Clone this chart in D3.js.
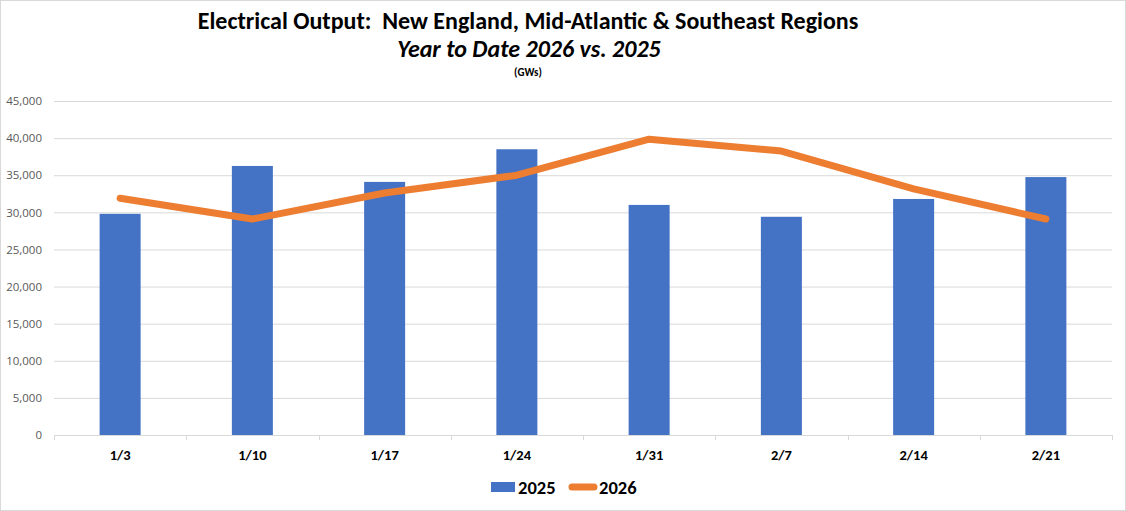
<!DOCTYPE html>
<html>
<head>
<meta charset="utf-8">
<title>Electrical Output</title>
<script src="https://cdn.jsdelivr.net/npm/d3@7"></script>
<style>
  body { margin: 0; background: #fff; }
  svg { display: block; }
</style>
</head>
<body>
<div id="chart"></div>
<script>
// data
var weeks = ["1/3", "1/10", "1/17", "1/24", "1/31", "2/7", "2/14", "2/21"];
var output2025 = [29800, 36250, 34100, 38500, 31000, 29400, 31800, 34750];
var output2026 = [31900, 29100, 32600, 35000, 39850, 38250, 33150, 29100];
var yTicks = [0, 5000, 10000, 15000, 20000, 25000, 30000, 35000, 40000, 45000];

var W = 1126, H = 511;
var margin = {top: 101, right: 14, bottom: 76, left: 54};
var width = W - margin.left - margin.right,
    height = H - margin.top - margin.bottom;

var svg = d3.select("#chart").append("svg")
    .attr("width", W)
    .attr("height", H);

// outer border
svg.append("rect")
    .attr("x", 0.5).attr("y", 0.5)
    .attr("width", W - 1).attr("height", H - 1)
    .attr("fill", "#fff")
    .attr("stroke", "#d9d9d9");

// titles
svg.append("text")
    .attr("x", 528).attr("y", 29)
    .attr("text-anchor", "middle")
    .attr("xml:space", "preserve")
    .style("font-family", "Carlito, Lato, sans-serif")
    .style("font-weight", "bold")
    .style("font-size", "24px")
    .text("Electrical Output:  New England, Mid-Atlantic & Southeast Regions");

svg.append("text")
    .attr("x", 529).attr("y", 57)
    .attr("text-anchor", "middle")
    .style("font-family", "Carlito, Lato, sans-serif")
    .style("font-weight", "bold")
    .style("font-style", "italic")
    .style("font-size", "24px")
    .text("Year to Date 2026 vs. 2025");

svg.append("text")
    .attr("x", 528).attr("y", 76)
    .attr("text-anchor", "middle")
    .style("font-family", "Carlito, Lato, sans-serif")
    .style("font-weight", "bold")
    .style("font-size", "11px")
    .text("(GWs)");

var g = svg.append("g")
    .attr("transform", "translate(" + margin.left + "," + margin.top + ")");

var x = d3.scaleBand().domain(weeks).range([0, width]).paddingInner(0).paddingOuter(0);
var y = d3.scaleLinear().domain([0, 45000]).range([height, 0]);

// gridlines
g.append("g")
    .call(d3.axisLeft(y).tickValues(yTicks).tickSize(-width).tickFormat(""))
    .call(function(s) {
      s.select(".domain").remove();
      s.selectAll("line").attr("stroke", "#d9d9d9");
    });

// y tick labels
g.append("g")
    .call(d3.axisLeft(y).tickValues(yTicks).tickSize(0).tickPadding(12).tickFormat(d3.format(",")))
    .call(function(s) {
      s.select(".domain").remove();
      s.selectAll("text")
        .attr("fill", "#595959")
        .style("font-family", "'Open Sans', sans-serif")
        .style("font-size", "11.5px");
    });

// bars
var bw = x.bandwidth() * 0.31;
g.selectAll(".bar")
    .data(output2025)
    .enter().append("rect")
    .attr("class", "bar")
    .attr("x", function(d, i) { return x(weeks[i]) + x.bandwidth() / 2 - bw / 2; })
    .attr("y", function(d) { return y(d); })
    .attr("width", bw)
    .attr("height", function(d) { return height - y(d); })
    .attr("fill", "#4472c4");

// x axis
g.append("g")
    .attr("transform", "translate(0," + height + ")")
    .call(d3.axisBottom(x).tickSize(0).tickPadding(15))
    .call(function(s) {
      s.select(".domain").attr("stroke", "#d9d9d9");
      s.selectAll("text")
        .attr("fill", "#000")
        .style("font-family", "Carlito, Lato, sans-serif")
        .style("font-weight", "bold")
        .style("font-size", "14.5px");
    });

// tick marks at category boundaries
g.selectAll(".sep")
    .data(d3.range(weeks.length + 1))
    .enter().append("line")
    .attr("x1", function(i) { return Math.round(i * x.step()) + 0.5; })
    .attr("x2", function(i) { return Math.round(i * x.step()) + 0.5; })
    .attr("y1", height).attr("y2", height + 5)
    .attr("stroke", "#d9d9d9");

// 2026 line
var line = d3.line()
    .x(function(d, i) { return x(weeks[i]) + x.bandwidth() / 2; })
    .y(function(d) { return y(d); });

g.append("path")
    .datum(output2026)
    .attr("d", line)
    .attr("fill", "none")
    .attr("stroke", "#ed7d31")
    .attr("stroke-width", 7)
    .attr("stroke-linecap", "round")
    .attr("stroke-linejoin", "round");

// legend
var leg = svg.append("g").attr("transform", "translate(0,487)");
leg.append("rect")
    .attr("x", 491).attr("y", -5)
    .attr("width", 24).attr("height", 10)
    .attr("fill", "#4472c4");
leg.append("text")
    .attr("x", 518).attr("y", 7)
    .style("font-family", "Carlito, Lato, sans-serif")
    .style("font-weight", "bold")
    .style("font-size", "18.5px")
    .text("2025");
leg.append("line")
    .attr("x1", 572).attr("x2", 594)
    .attr("y1", 0).attr("y2", 0)
    .attr("stroke", "#ed7d31")
    .attr("stroke-width", 7)
    .attr("stroke-linecap", "round");
leg.append("text")
    .attr("x", 599).attr("y", 7)
    .style("font-family", "Carlito, Lato, sans-serif")
    .style("font-weight", "bold")
    .style("font-size", "18.5px")
    .text("2026");
</script>
</body>
</html>
